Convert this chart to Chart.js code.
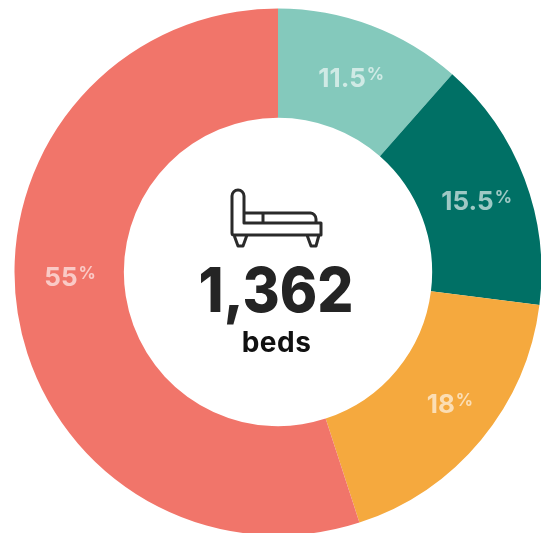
<!DOCTYPE html>
<html>
<head>
<meta charset="utf-8">
<style>
  html, body { margin: 0; padding: 0; background: #fff; overflow: hidden; }
  #wrap { position: relative; width: 560px; height: 560px; }
</style>
<script src="https://cdn.jsdelivr.net/npm/chart.js@4"></script>
</head>
<body>
<div id="wrap"><canvas id="myChart"></canvas></div>
<script>
const labels = ["11.5", "15.5", "18", "55"];
const values = [11.5, 15.5, 18, 55];
const colors = ['#84c9bc', '#007065', '#f5a93e', '#f1756a'];
const totalText = "1,362";
const unitText = "beds";

// label placement inside each slice (ring radius, degrees away from slice middle)
const labelRadius = [207, 211, 217, 208];
const labelShift = [0, 1, -2, 7.5];

const sliceLabels = {
  id: 'sliceLabels',
  afterDatasetsDraw(chart) {
    const ctx = chart.ctx;
    const arcs = chart.getDatasetMeta(0).data;
    ctx.save();
    ctx.fillStyle = 'rgba(255,255,255,0.62)';
    ctx.textBaseline = 'alphabetic';
    ctx.textAlign = 'left';
    arcs.forEach((arc, i) => {
      const a = (arc.startAngle + arc.endAngle) / 2 + labelShift[i] * Math.PI / 180;
      const x = arc.x + Math.cos(a) * labelRadius[i];
      const y = arc.y + Math.sin(a) * labelRadius[i];
      ctx.font = '700 26px Inter';
      const w = ctx.measureText(labels[i]).width;
      ctx.font = '700 17px Inter';
      const pw = ctx.measureText('%').width;
      const left = x - (w + pw + 1) / 2;
      ctx.font = '700 26px Inter';
      ctx.fillText(labels[i], left, y + 9);
      ctx.font = '700 17px Inter';
      ctx.fillText('%', left + w + 1, y + 2);
    });
    ctx.restore();
  }
};

const centerBlock = {
  id: 'centerBlock',
  afterDraw(chart) {
    const ctx = chart.ctx;
    ctx.save();
    // bed icon
    ctx.strokeStyle = '#2a2a2a';
    ctx.lineWidth = 3;
    ctx.lineJoin = 'round';
    ctx.lineCap = 'round';
    ctx.beginPath();
    ctx.moveTo(232, 233);
    ctx.lineTo(232, 196);
    ctx.arcTo(232, 190, 238, 190, 6);
    ctx.arcTo(244, 190, 244, 196, 6);
    ctx.lineTo(244, 223);
    ctx.lineTo(321, 223);
    ctx.lineTo(321, 235);
    ctx.lineTo(234, 235);
    ctx.arcTo(232, 235, 232, 233, 2);
    ctx.moveTo(244, 213);
    ctx.lineTo(311, 213);
    ctx.arcTo(316, 213, 316, 223, 6);
    ctx.lineTo(316, 223);
    ctx.moveTo(263, 213);
    ctx.lineTo(263, 223);
    ctx.moveTo(234, 235);
    ctx.lineTo(238, 246);
    ctx.lineTo(243, 246);
    ctx.lineTo(247, 235);
    ctx.moveTo(307, 235);
    ctx.lineTo(311, 246);
    ctx.lineTo(316, 246);
    ctx.lineTo(319, 235);
    ctx.stroke();

    ctx.textAlign = 'center';
    ctx.textBaseline = 'alphabetic';
    ctx.fillStyle = '#242424';
    ctx.font = '800 62px Inter';
    ctx.save();
    ctx.translate(276, 312);
    ctx.scale(0.915, 1);
    ctx.fillText(totalText, 0, 0);
    ctx.restore();
    ctx.fillStyle = '#111';
    ctx.font = '700 28px Inter';
    ctx.letterSpacing = '0.5px';
    ctx.fillText(unitText, 276.5, 352);
    ctx.restore();
  }
};

const config = {
  type: 'doughnut',
  data: {
    labels: labels,
    datasets: [{
      data: values,
      backgroundColor: colors,
      borderWidth: 0
    }]
  },
  options: {
    responsive: false,
    animation: false,
    cutout: '58.5%',
    layout: { padding: { left: 14.5, top: 8.5, right: 18.5, bottom: 24.5 } },
    plugins: {
      legend: { display: false },
      tooltip: { enabled: false }
    }
  },
  plugins: [sliceLabels, centerBlock]
};

const canvas = document.getElementById('myChart');
canvas.width = 560;
canvas.height = 560;
var myChart = new Chart(canvas, config);
</script>
</body>
</html>
